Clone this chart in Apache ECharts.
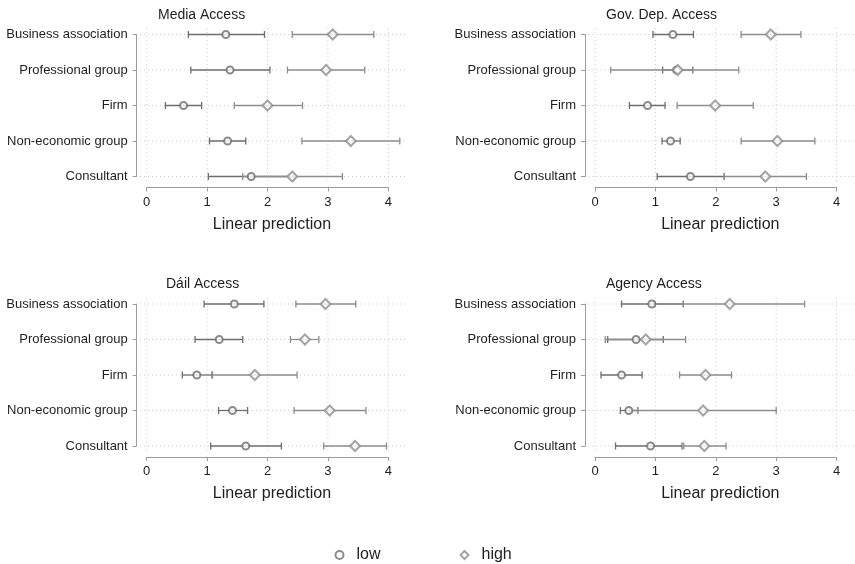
<!DOCTYPE html>
<html><head><meta charset="utf-8">
<script src="https://cdn.jsdelivr.net/npm/echarts@6/dist/echarts.min.js"></script>
<style>html,body{margin:0;padding:0;background:#fff}#c{width:855px;height:564px}</style>
</head><body><div id="c"></div>
<script>
// ---------- data ----------
const categories = ['Business association', 'Professional group', 'Firm', 'Non-economic group', 'Consultant'];
const xTicks = [0, 1, 2, 3, 4];
const panelTitles = ['Media Access', 'Gov. Dep. Access', 'Dáil Access', 'Agency Access'];
const xAxisTitle = 'Linear prediction';
const groupNames = ['low', 'high'];
// each row: [lower CI, prediction, upper CI] per category
const mediaLow   = [[0.69, 1.31, 1.95], [0.73, 1.38, 2.04], [0.31, 0.61, 0.91], [1.04, 1.34, 1.64], [1.02, 1.73, 2.44]];
const mediaHigh  = [[2.41, 3.08, 3.76], [2.33, 2.97, 3.61], [1.45, 2.00, 2.58], [2.57, 3.38, 4.19], [1.59, 2.41, 3.24]];
const govLow     = [[0.96, 1.29, 1.63], [1.12, 1.35, 1.62], [0.57, 0.87, 1.16], [1.11, 1.25, 1.41], [1.03, 1.58, 2.14]];
const govHigh    = [[2.42, 2.91, 3.41], [0.26, 1.37, 2.38], [1.36, 1.99, 2.62], [2.42, 3.02, 3.64], [2.14, 2.82, 3.50]];
const dailLow    = [[0.95, 1.45, 1.94], [0.80, 1.20, 1.59], [0.59, 0.83, 1.08], [1.19, 1.42, 1.67], [1.06, 1.64, 2.23]];
const dailHigh   = [[2.47, 2.96, 3.46], [2.38, 2.62, 2.85], [1.09, 1.79, 2.49], [2.44, 3.03, 3.63], [2.93, 3.45, 3.97]];
const agencyLow  = [[0.44, 0.94, 1.46], [0.21, 0.68, 1.13], [0.10, 0.44, 0.78], [0.42, 0.56, 0.71], [0.34, 0.92, 1.44]];
const agencyHigh = [[0.99, 2.23, 3.47], [0.17, 0.84, 1.50], [1.40, 1.83, 2.26], [0.58, 1.79, 3.00], [1.47, 1.81, 2.17]];

// ---------- layout / style ----------
const FONT = '"Liberation Sans", Arial, Helvetica, sans-serif';
const TXT = '#1e1e1e';
const AXIS = '#9c9c9c';
const GRIDC = '#c9c9c9';
const LOWC = '#6e6e6e';
const HIGHC = '#8e8e8e';

const panels = [
  { title: panelTitles[0], low: mediaLow,  high: mediaHigh,  left: 146.7, top: 34.5, titleLeft: 158, titleTop: 8 },
  { title: panelTitles[1], low: govLow,    high: govHigh,    left: 595,   top: 34.5, titleLeft: 606, titleTop: 8 },
  { title: panelTitles[2], low: dailLow,   high: dailHigh,   left: 146.7, top: 304,  titleLeft: 166, titleTop: 277 },
  { title: panelTitles[3], low: agencyLow, high: agencyHigh, left: 595,   top: 304,  titleLeft: 606, titleTop: 277 }
];
const PW = 241.6, PH = 142;

const chart = echarts.init(document.getElementById('c'), null, { renderer: 'canvas' });

const grids = [], xAxes = [], yAxes = [], series = [], titles = [];

function gridRender(params, api) {
  const kind = api.value(0), v = api.value(1);
  let a, b;
  if (kind === 0) { a = api.coord([-0.11, v]); b = api.coord([4.33, v]); }
  else { a = api.coord([v, -0.18]); b = api.coord([v, 4.18]); }
  return { type: 'line', shape: { x1: a[0], y1: a[1], x2: b[0], y2: b[1] },
    style: { stroke: GRIDC, lineWidth: 1, lineDash: [1, 3] } };
}
function errRender(color) {
  return function (params, api) {
    const y = api.value(0);
    const a = api.coord([api.value(1), y]);
    const b = api.coord([api.value(3), y]);
    const h = 3.5;
    const st = { stroke: color, lineWidth: 1.3, fill: null };
    return { type: 'group', children: [
      { type: 'line', shape: { x1: a[0], y1: a[1], x2: b[0], y2: b[1] }, style: st },
      { type: 'line', shape: { x1: a[0], y1: a[1] - h, x2: a[0], y2: a[1] + h }, style: st },
      { type: 'line', shape: { x1: b[0], y1: b[1] - h, x2: b[0], y2: b[1] + h }, style: st }
    ] };
  };
}

panels.forEach((p, k) => {
  grids.push({ left: p.left, top: p.top, width: PW, height: PH, containLabel: false });
  xAxes.push({
    gridIndex: k, type: 'value', min: 0, max: 4, interval: 1, offset: 11, position: 'bottom',
    axisLine: { show: true, onZero: false, lineStyle: { color: AXIS, width: 1 } },
    axisTick: { show: true, length: 4, lineStyle: { color: AXIS } },
    axisLabel: { fontSize: 13, color: TXT, fontFamily: FONT, margin: 8 },
    splitLine: { show: false },
    name: xAxisTitle, nameLocation: 'middle', nameGap: 29,
    nameTextStyle: { fontSize: 16, color: TXT, fontFamily: FONT, padding: [0, 0, 0, 9] }
  });
  yAxes.push({
    gridIndex: k, type: 'value', inverse: true, min: 0, max: 4, interval: 1, offset: 10, position: 'left',
    axisLine: { show: true, onZero: false, lineStyle: { color: AXIS, width: 1 } },
    axisTick: { show: true, length: 4, lineStyle: { color: AXIS } },
    axisLabel: { fontSize: 13, color: TXT, fontFamily: FONT, margin: 9,
      formatter: v => categories[v] || '' },
    splitLine: { show: false }
  });
  titles.push({ text: p.title, left: p.titleLeft, top: p.titleTop, padding: 0,
    textStyle: { fontSize: 14, fontWeight: 'normal', color: TXT, fontFamily: FONT } });

  const gdata = categories.map((c, i) => [0, i]).concat(xTicks.map(t => [1, t]));
  series.push({ type: 'custom', name: 'grid' + k, xAxisIndex: k, yAxisIndex: k, silent: true, z: 1,
    renderItem: gridRender, data: gdata });

  [['low', p.low, LOWC, 'emptyCircle', 7], ['high', p.high, HIGHC, 'emptyDiamond', 10]].forEach(([nm, arr, col, sym, sz]) => {
    series.push({ type: 'custom', name: nm + 'CI' + k, xAxisIndex: k, yAxisIndex: k, silent: true, z: 2,
      renderItem: errRender(col), encode: { x: [1, 3], y: 0 },
      data: arr.map((r, i) => [i, r[0], r[1], r[2]]) });
    series.push({ type: 'scatter', name: nm, xAxisIndex: k, yAxisIndex: k, z: 3,
      symbol: sym, symbolSize: sz,
      itemStyle: { color: col, borderColor: col, borderWidth: 1.4 },
      data: arr.map((r, i) => [r[1], i]) });
  });
});

chart.setOption({
  animation: false,
  backgroundColor: '#ffffff',
  title: titles,
  grid: grids,
  xAxis: xAxes,
  yAxis: yAxes,
  legend: {
    data: [{ name: groupNames[0], icon: 'emptyCircle' }, { name: groupNames[1], icon: 'emptyDiamond' }],
    left: 329.5, top: 542, itemWidth: 8, itemHeight: 8, itemGap: 79,
    textStyle: { fontSize: 16, color: TXT, fontFamily: FONT, padding: [0, 0, 0, 8] }
  },
  series: series
});
</script></body></html>
